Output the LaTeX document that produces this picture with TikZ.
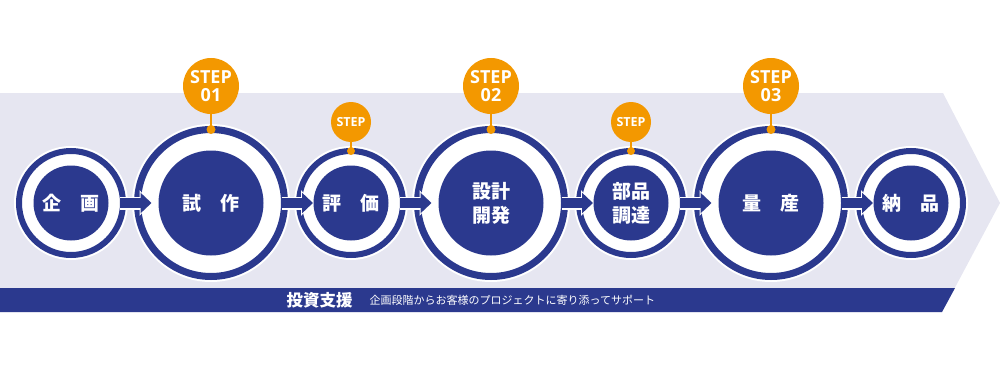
\documentclass[tikz,border=0pt]{standalone}
\usepackage{fontspec}
\newfontfamily\jp{Noto Sans CJK JP}
\newfontfamily\stepfont{Open Sans}
\usetikzlibrary{arrows.meta,positioning}
\definecolor{navy}{RGB}{43,57,142}
\definecolor{stepor}{RGB}{243,152,0}
\definecolor{lav}{RGB}{230,230,241}
\tikzset{
  smallring/.style={circle, draw=navy, line width=6pt, fill=white, inner sep=0pt, outer sep=0pt,
    minimum size=104pt, preaction={draw=white, line width=10pt}},
  bigring/.style={circle, draw=navy, line width=7pt, fill=white, inner sep=0pt, outer sep=0pt,
    minimum size=147pt, preaction={draw=white, line width=11pt}},
  smallcore/.style={circle, fill=navy, minimum size=75pt, inner sep=0pt, text=white,
    align=center, font=\jp\bfseries\fontsize{19}{24}\selectfont},
  bigcore/.style={smallcore, minimum size=105pt},
  flowarrow/.style={navy, line width=10pt, -{Triangle[length=11pt,width=20pt]},
    preaction={draw=white, line width=13pt, -{Triangle[length=12pt,width=25pt]}}},
  bigbadge/.style={circle, fill=stepor, minimum size=56pt, inner sep=0pt, text=white,
    align=center, font=\stepfont\bfseries\fontsize{18}{18}\selectfont},
  smallbadge/.style={bigbadge, minimum size=40pt, font=\stepfont\bfseries\fontsize{12.5}{12}\selectfont},
  badgeline/.style={stepor, line width=1.5pt}
}
\begin{document}
\begin{tikzpicture}[x=1pt, y=-1pt]
\useasboundingbox (0,0) rectangle (1000,369);
% background arrow and support band
\fill[lav] (0,93) -- (943,93) -- (1000,203) -- (942,312) -- (0,312) -- cycle;
\fill[navy] (0,288) -- (955,288) -- (942,312) -- (0,312) -- cycle;
\node[anchor=west, text=white, font=\jp\bfseries\fontsize{16.5}{18}\selectfont] (toushi) at (283,300) {投資支援};
\node[right=10pt of toushi, text=white, font=\jp\fontsize{11}{13}\selectfont] (support) {企画段階からお客様のプロジェクトに寄り添ってサポート};
% stages
\foreach \i/\nm/\sz/\txt in {0/kikaku/small/企　画, 1/shisaku/big/試　作, 2/hyouka/small/評　価,
    3/sekkei/big/{設計\\開発}, 4/buhin/small/{部品\\調達}, 5/ryousan/big/量　産, 6/nouhin/small/納　品} {
  \node[\sz ring] (\nm) at (71+140*\i,203) {};
  \node[\sz core] (\nm c) at (\nm) {\txt};
}
\foreach \a/\b in {kikaku/shisaku, shisaku/hyouka, hyouka/sekkei, sekkei/buhin, buhin/ryousan, ryousan/nouhin}
  \draw[flowarrow] ([xshift=-3pt]\a.east) -- ([xshift=14pt]\b.west);
% step badges
\foreach \nm/\num in {shisaku/01, sekkei/02, ryousan/03} {
  \node[bigbadge] (\nm s) at ([yshift=117pt]\nm) {STEP\\\num};
  \draw[badgeline] (\nm s.south) -- (\nm.north);
  \fill[stepor] (\nm.north) circle (4.5);
}
\foreach \nm in {hyouka, buhin} {
  \node[smallbadge] (\nm s) at ([yshift=81pt]\nm) {STEP};
  \draw[badgeline] (\nm s.south) -- (\nm.north);
  \fill[stepor] (\nm.north) circle (4);
}
\end{tikzpicture}
\end{document}
